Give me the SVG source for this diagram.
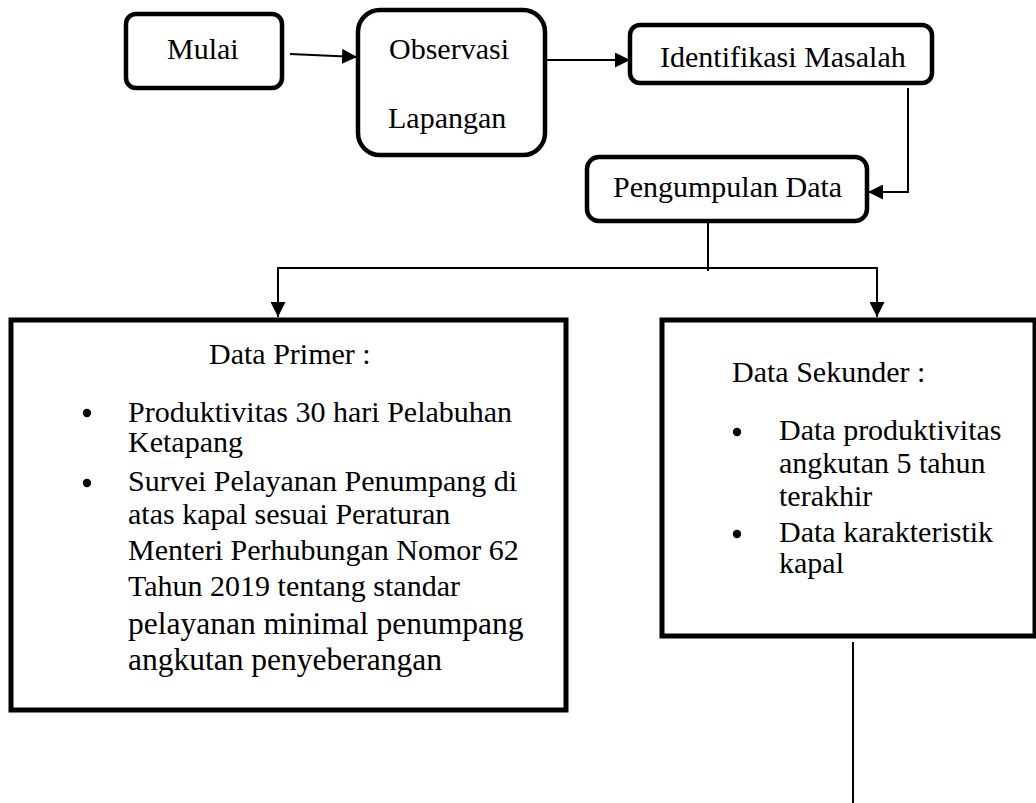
<svg xmlns="http://www.w3.org/2000/svg" width="1036" height="803" viewBox="0 0 1036 803">
  <defs>
    <marker id="arrow" viewBox="0 0 10 10" refX="10" refY="5" markerWidth="15" markerHeight="15" markerUnits="userSpaceOnUse" orient="auto">
      <path d="M0,0 L10,5 L0,10 z" fill="#000"/>
    </marker>
    <style>
      .box { fill: #fff; stroke: #000; stroke-width: 4.5; }
      .big { fill: #fff; stroke: #000; stroke-width: 5; }
      .conn { fill: none; stroke: #000; stroke-width: 2; }
      .t { font-family: "Liberation Serif", "Times New Roman", serif; font-size: 30px; fill: #000; }
      .t2 { font-family: "Liberation Serif", "Times New Roman", serif; font-size: 31.5px; fill: #000; }
    </style>
  </defs>
  <rect width="1036" height="803" fill="#fff"/>

  <g id="connectors">
    <path class="conn" d="M290,54 L357,57" marker-end="url(#arrow)"/>
    <path class="conn" d="M545,60 L630,60" marker-end="url(#arrow)"/>
    <path class="conn" d="M908,88 L908,192 L868,192" marker-end="url(#arrow)"/>
    <path class="conn" d="M708,222 L708,271"/>
    <path class="conn" d="M708,268 L278,268 L278,317" marker-end="url(#arrow)"/>
    <path class="conn" d="M708,268 L877,268 L877,317" marker-end="url(#arrow)"/>
    <path class="conn" d="M853,642 L853,803"/>
  </g>

  <g id="mulai">
    <rect class="box" x="126" y="14" width="156" height="74" rx="10"/>
    <text class="t" x="167" y="59">Mulai</text>
  </g>

  <g id="observasi">
    <rect class="box" x="358" y="10" width="187" height="145" rx="22"/>
    <text class="t" x="389" y="59">Observasi</text>
    <text class="t" x="388" y="128">Lapangan</text>
  </g>

  <g id="identifikasi">
    <rect class="box" x="630" y="25" width="302" height="58" rx="10"/>
    <text class="t" x="660" y="67">Identifikasi Masalah</text>
  </g>

  <g id="pengumpulan">
    <rect class="box" x="587" y="157" width="280" height="64" rx="12"/>
    <text class="t" x="613" y="197">Pengumpulan Data</text>
  </g>

  <g id="data-primer">
    <rect class="big" x="11" y="320" width="555" height="390"/>
    <text class="t" x="209" y="364">Data Primer :</text>
    <circle cx="87" cy="413" r="4.2" fill="#000"/>
    <text class="t" x="128" y="422">Produktivitas 30 hari Pelabuhan</text>
    <text class="t" x="128" y="452">Ketapang</text>
    <circle cx="87" cy="483" r="4.2" fill="#000"/>
    <text class="t" x="128" y="491">Survei Pelayanan Penumpang di</text>
    <text class="t" x="128" y="524">atas kapal sesuai Peraturan</text>
    <text class="t" x="128" y="560">Menteri Perhubungan Nomor 62</text>
    <text class="t" x="128" y="596">Tahun 2019 tentang standar</text>
    <text class="t2" x="128" y="634">pelayanan minimal penumpang</text>
    <text class="t2" x="128" y="670">angkutan penyeberangan</text>
  </g>

  <g id="data-sekunder">
    <rect class="big" x="662" y="320" width="373" height="316"/>
    <text class="t" x="732" y="382">Data Sekunder :</text>
    <circle cx="737" cy="432" r="4.2" fill="#000"/>
    <text class="t" x="779" y="440">Data produktivitas</text>
    <text class="t" x="779" y="473">angkutan 5 tahun</text>
    <text class="t" x="779" y="506">terakhir</text>
    <circle cx="737" cy="534" r="4.2" fill="#000"/>
    <text class="t" x="779" y="542">Data karakteristik</text>
    <text class="t" x="779" y="573">kapal</text>
  </g>
</svg>
